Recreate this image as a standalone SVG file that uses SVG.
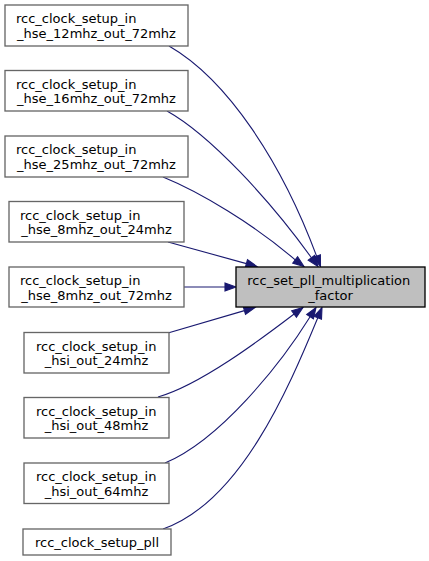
<svg xmlns="http://www.w3.org/2000/svg" width="429" height="561" viewBox="0 0 429 561">
<style>
.n rect{fill:#ffffff;stroke:#666666;stroke-width:1.33}
.t rect{fill:#bfbfbf;stroke:#000000;stroke-width:1.33}
text{font-family:"DejaVu Sans",sans-serif;font-size:13px;fill:#000000}
.m{text-anchor:middle}
.e path{fill:none;stroke:#191970;stroke-width:1.1}
.e polygon{fill:#191970;stroke:#191970;stroke-width:1.1}
</style>
<rect width="429" height="561" fill="#ffffff"/>
<g class="e" id="edges">
<path d="M169,46 C228,80 282,163 316.65,256.2"/><polygon points="312.9,257.6 320.4,254.8 320.5,266.5"/>
<path d="M167,111 C210,135 270,200 311.4,257.7"/><polygon points="308.2,260.1 314.6,255.3 318,266.5"/>
<path d="M163,177 C200,192 255,225 295.2,259.9"/><polygon points="292.8,263.1 297.6,256.7 304,266.5"/>
<path d="M168,242 L246.4,263.6"/><polygon points="245.3,267.5 247.5,259.7 257,266.5"/>
<path d="M184,287 L225,287"/><polygon points="225,283 225,291 236,287"/>
<path d="M168,333 L244.4,310.6"/><polygon points="245.5,314.4 243.3,306.8 255,307.5"/>
<path d="M158,397 C200,385 260,340 294.1,314"/><polygon points="296.4,317.2 291.7,310.8 303,307.5"/>
<path d="M165,463 C220,440 280,365 310.1,316.7"/><polygon points="313.4,318.9 306.7,314.5 316,307.5"/>
<path d="M163,529 C240,502 288,390 317.8,317.7"/><polygon points="321.5,319.2 314.1,316.2 322,307.5"/>
</g>
<g class="t" id="node_target">
<rect x="236" y="267" width="189" height="40"/>
<text x="247.3" y="285.2">rcc_set_pll_multiplication</text>
<text class="m" x="330.5" y="299.8">_factor</text>
</g>
<g class="n" id="node1">
<rect x="5" y="5" width="183" height="41"/>
<text x="16" y="23.2">rcc_clock_setup_in</text>
<text class="m" x="96.5" y="37.8">_hse_12mhz_out_72mhz</text>
</g>
<g class="n" id="node2">
<rect x="5" y="70.5" width="183" height="40.5"/>
<text x="16" y="88.7">rcc_clock_setup_in</text>
<text class="m" x="96.5" y="103.3">_hse_16mhz_out_72mhz</text>
</g>
<g class="n" id="node3">
<rect x="5" y="136" width="183" height="41"/>
<text x="16" y="154.2">rcc_clock_setup_in</text>
<text class="m" x="96.5" y="168.8">_hse_25mhz_out_72mhz</text>
</g>
<g class="n" id="node4">
<rect x="9" y="201.5" width="175" height="40.5"/>
<text x="20" y="219.7">rcc_clock_setup_in</text>
<text class="m" x="96.5" y="234.3">_hse_8mhz_out_24mhz</text>
</g>
<g class="n" id="node5">
<rect x="9" y="267" width="175" height="40"/>
<text x="20" y="285.2">rcc_clock_setup_in</text>
<text class="m" x="96.5" y="299.8">_hse_8mhz_out_72mhz</text>
</g>
<g class="n" id="node6">
<rect x="24" y="332.5" width="145" height="40.5"/>
<text x="36" y="350.7">rcc_clock_setup_in</text>
<text class="m" x="96.5" y="365.3">_hsi_out_24mhz</text>
</g>
<g class="n" id="node7">
<rect x="24" y="397.5" width="145" height="40.5"/>
<text x="36" y="415.7">rcc_clock_setup_in</text>
<text class="m" x="96.5" y="430.3">_hsi_out_48mhz</text>
</g>
<g class="n" id="node8">
<rect x="24" y="463" width="145" height="40.5"/>
<text x="36" y="481.2">rcc_clock_setup_in</text>
<text class="m" x="96.5" y="495.8">_hsi_out_64mhz</text>
</g>
<g class="n" id="node9">
<rect x="23" y="529" width="148" height="26"/>
<text class="m" x="97" y="547">rcc_clock_setup_pll</text>
</g>
</svg>
